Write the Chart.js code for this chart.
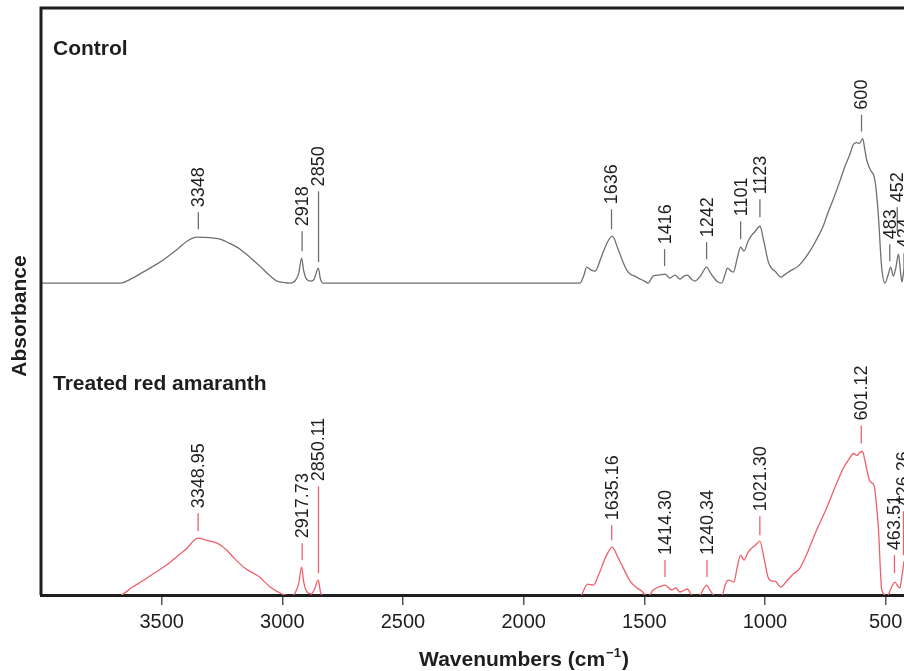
<html>
<head>
<meta charset="UTF-8">
<script src="https://cdn.jsdelivr.net/npm/chart.js@4.4.1/dist/chart.umd.min.js"></script>
<style>
  body { margin: 0; background: #fff; }
  #wrap { width: 904px; height: 671px; }
</style>
</head>
<body>
<div id="wrap"><canvas id="myChart" width="904" height="671"></canvas></div>
<script>
// x axis ticks (wavenumbers, cm-1)
var xTickValues = [3500, 3000, 2500, 2000, 1500, 1000, 500];
var xMin = 424, xMax = 4000;

// control spectrum (absorbance, arbitrary units, before vertical offset)
var controlWn = [4000, 3900, 3800, 3673, 3620, 3577, 3520, 3478, 3430, 3395, 3354, 3300, 3258, 3220, 3175, 3130, 3093, 3050, 3022, 2990, 2968,
  2945, 2932, 2920, 2912, 2900, 2880, 2868, 2851, 2842, 2830, 2500, 2000, 1767, 1750, 1739, 1720, 1704, 1680, 1655, 1633, 1610, 1590, 1567,
  1532, 1500, 1484, 1464, 1440, 1414, 1394, 1373, 1352, 1336, 1322, 1305, 1290, 1265, 1242, 1228, 1214, 1195, 1180, 1165, 1156, 1140, 1131,
  1115, 1101, 1087, 1070, 1055, 1040, 1021, 1005, 986, 970, 959, 934, 915, 897, 862, 840, 814, 790, 759, 740, 717, 690, 669, 650, 634, 620,
  609, 595, 587, 579, 562, 548, 540, 530, 517, 503, 490, 479, 468, 458, 447, 440, 433, 424];
var controlAbs = [0, 0, 0, 0, 5, 11, 19, 26, 35, 42, 46, 45.5, 44, 40, 34, 25, 17, 7, 2, 0.5, 0,
  3, 10, 25, 13, 4, 2, 4, 15, 4, 0, 0, 0, 0, 8, 16, 13, 12, 25, 40, 47, 35, 22, 11,
  6, 2, 0, 7, 8, 9, 5, 8, 4, 7, 8, 4, 2, 8, 16, 11, 6, 1, 0, 9, 15, 12, 11,
  25, 36, 32, 42, 48, 52, 57, 42, 21, 14, 12, 6, 9, 12, 17, 23, 32, 42, 57, 70, 84, 102, 117, 128, 139, 141,
  140, 145, 135, 124, 113, 107, 95, 67, 17, 0, 8, 16, 7, 15, 29, 15, 1, 14];
var controlOffset = 313;

// treated red amaranth spectrum
var treatedWn = [4000, 3700, 3666, 3620, 3580, 3530, 3480, 3430, 3395, 3365, 3350, 3300, 3270, 3230, 3200, 3150, 3100, 3050, 3010, 2990, 2960,
  2945, 2932, 2920, 2912, 2900, 2880, 2868, 2851, 2842, 2830, 2800, 2000, 1780, 1760, 1745, 1735, 1711, 1690, 1660, 1633, 1610, 1587, 1559,
  1530, 1511, 1497, 1487, 1477, 1463, 1440, 1414, 1387, 1369, 1352, 1322, 1304, 1290, 1269, 1255, 1242, 1228, 1214, 1195, 1176, 1165, 1152,
  1129, 1115, 1101, 1087, 1070, 1055, 1040, 1021, 1005, 986, 970, 959, 934, 910, 883, 855, 820, 790, 745, 710, 676, 650, 634, 618, 608, 596,
  587, 579, 565, 548, 540, 530, 517, 503, 495, 489, 475, 462, 450, 441, 432, 424];
var treatedAbs = [-3, -3, 0, 8, 14, 22, 30, 40, 47, 55, 57, 54, 52, 45, 37, 26, 19, 8, 2, 0, -1,
  3, 12, 28, 14, 4, 1, 5, 15, 3, -2, -3, -3, -3, 0, 8, 11, 10, 20, 38, 48, 38, 27, 14,
  7, 4, 0, -3, 0, 5, 8, 10, 5, 7, 3, 6, 0, -2, 0, 6, 10, 5, 0, -4, 0, 10, 15,
  13, 28, 40, 35, 43, 47, 50, 54, 38, 17, 14, 14, 8, 14, 21, 27, 45, 63, 87, 108, 127, 137, 142, 140, 143, 144,
  136, 127, 114, 110, 95, 67, 7, 0, -4, 0, 8, 13, 9, 7, 20, 34];
var treatedOffset = 0;

// peak annotations: position, text, leader line start/end (units above trace baseline)
var controlPeakWn = [3348, 2918, 2850, 1636, 1416, 1242, 1101, 1021, 600, 483, 452, 424];
var controlPeakText = ['3348', '2918', '2850', '1636', '1416', '1242', '1101', '1123', '600', '483', '452', '424'];
var controlLeaderLow = [54, 32, 21, 54, 17, 24, 44, 66, 152, 22, 52, 12];
var controlLeaderHigh = [71, 52, 92, 74, 34, 41, 62, 84, 169, 39, 76, 30];

var treatedPeakWn = [3348.95, 2917.73, 2850.11, 1635.16, 1414.30, 1240.34, 1021.30, 601.12, 463.51, 426.26];
var treatedPeakText = ['3348.95', '2917.73', '2850.11', '1635.16', '1414.30', '1240.34', '1021.30', '601.12', '463.51', '426.26'];
var treatedLeaderLow = [64, 35, 22, 55, 18, 18, 60, 152, 22, 40];
var treatedLeaderHigh = [82, 52, 109, 70, 35, 35, 79, 170, 40, 84];

var grey = '#6f6f6f';
var red = '#ef5f6b';
var font = '"Liberation Sans", Arial, Helvetica, sans-serif';

function pts(wn, ab, off) {
  return wn.map(function (w, i) { return { x: w, y: ab[i] + off }; });
}

var decorations = {
  id: 'decorations',
  afterDatasetsDraw: function (chart) {
    var ctx = chart.ctx, a = chart.chartArea;
    var xs = chart.scales.x, ys = chart.scales.y;
    ctx.save();
    // frame (left and top)
    ctx.strokeStyle = '#1e1e1e';
    ctx.lineWidth = 3;
    ctx.beginPath();
    ctx.moveTo(a.left, a.bottom);
    ctx.lineTo(a.left, a.top);
    ctx.lineTo(chart.width + 2, a.top);
    ctx.stroke();

    function peaks(wn, txt, lo, hi, off, col) {
      for (var i = 0; i < wn.length; i++) {
        var x = xs.getPixelForValue(wn[i]);
        var y0 = ys.getPixelForValue(lo[i] + off);
        var y1 = ys.getPixelForValue(hi[i] + off);
        ctx.strokeStyle = col;
        ctx.lineWidth = 1.3;
        ctx.beginPath();
        ctx.moveTo(x, y0);
        ctx.lineTo(x, y1);
        ctx.stroke();
        ctx.save();
        ctx.translate(x + 1, y1 - 5);
        ctx.rotate(-Math.PI / 2);
        ctx.fillStyle = '#1e1e1e';
        ctx.font = '18px ' + font;
        ctx.textAlign = 'left';
        ctx.textBaseline = 'middle';
        ctx.fillText(txt[i], 0, 0);
        ctx.restore();
      }
    }
    peaks(controlPeakWn, controlPeakText, controlLeaderLow, controlLeaderHigh, controlOffset, grey);
    peaks(treatedPeakWn, treatedPeakText, treatedLeaderLow, treatedLeaderHigh, treatedOffset, red);

    // panel titles
    ctx.fillStyle = '#1e1e1e';
    ctx.font = 'bold 21px ' + font;
    ctx.textAlign = 'left';
    ctx.textBaseline = 'alphabetic';
    ctx.fillText('Control', a.left + 12, 55);
    ctx.fillText('Treated red amaranth', a.left + 12, 390);

    // y axis title
    ctx.save();
    ctx.translate(26, 316);
    ctx.rotate(-Math.PI / 2);
    ctx.textAlign = 'center';
    ctx.fillText('Absorbance', 0, 0);
    ctx.restore();

    // x axis title with superscript
    var t1 = 'Wavenumbers (cm', sup = '\u22121', t2 = ')';
    ctx.font = 'bold 21px ' + font;
    var w1 = ctx.measureText(t1).width, w3 = ctx.measureText(t2).width;
    ctx.font = 'bold 13px ' + font;
    var w2 = ctx.measureText(sup).width;
    var sx = 523 - (w1 + w2 + w3) / 2;
    ctx.font = 'bold 21px ' + font;
    ctx.fillText(t1, sx, 666);
    ctx.font = 'bold 13px ' + font;
    ctx.fillText(sup, sx + w1 + 1, 657);
    ctx.font = 'bold 21px ' + font;
    ctx.fillText(t2, sx + w1 + w2 + 2, 666);
    ctx.restore();
  }
};

var ctx = document.getElementById('myChart').getContext('2d');
var chart = new Chart(ctx, {
  type: 'line',
  data: {
    datasets: [{
      label: 'Control',
      data: pts(controlWn, controlAbs, controlOffset),
      borderColor: grey,
      borderWidth: 1.3,
      pointRadius: 0,
      cubicInterpolationMode: 'monotone',
      fill: false
    }, {
      label: 'Treated red amaranth',
      data: pts(treatedWn, treatedAbs, treatedOffset),
      borderColor: red,
      borderWidth: 1.3,
      pointRadius: 0,
      cubicInterpolationMode: 'monotone',
      fill: false
    }]
  },
  options: {
    responsive: false,
    animation: false,
    events: [],
    layout: { padding: { left: 41, top: 8, right: 0, bottom: 32 } },
    plugins: { legend: { display: false }, tooltip: { enabled: false } },
    scales: {
      x: {
        type: 'linear',
        reverse: true,
        min: xMin,
        max: xMax,
        afterBuildTicks: function (scale) {
          scale.ticks = xTickValues.map(function (v) { return { value: v }; });
        },
        afterFit: function (scale) {
          // keep the plot running to the right edge, as in the figure
          scale.paddingLeft = 0;
          scale.paddingRight = 0;
        },
        grid: { drawOnChartArea: false, drawTicks: true, tickLength: 10, color: '#555', lineWidth: 1.5 },
        border: { display: true, color: '#1e1e1e', width: 3 },
        ticks: {
          color: '#1e1e1e',
          font: { family: font, size: 20 },
          padding: 5,
          maxRotation: 0,
          callback: function (v) { return String(v); }
        }
      },
      y: {
        display: false,
        min: 0,
        max: 589
      }
    }
  },
  plugins: [decorations]
});
</script>
</body>
</html>
